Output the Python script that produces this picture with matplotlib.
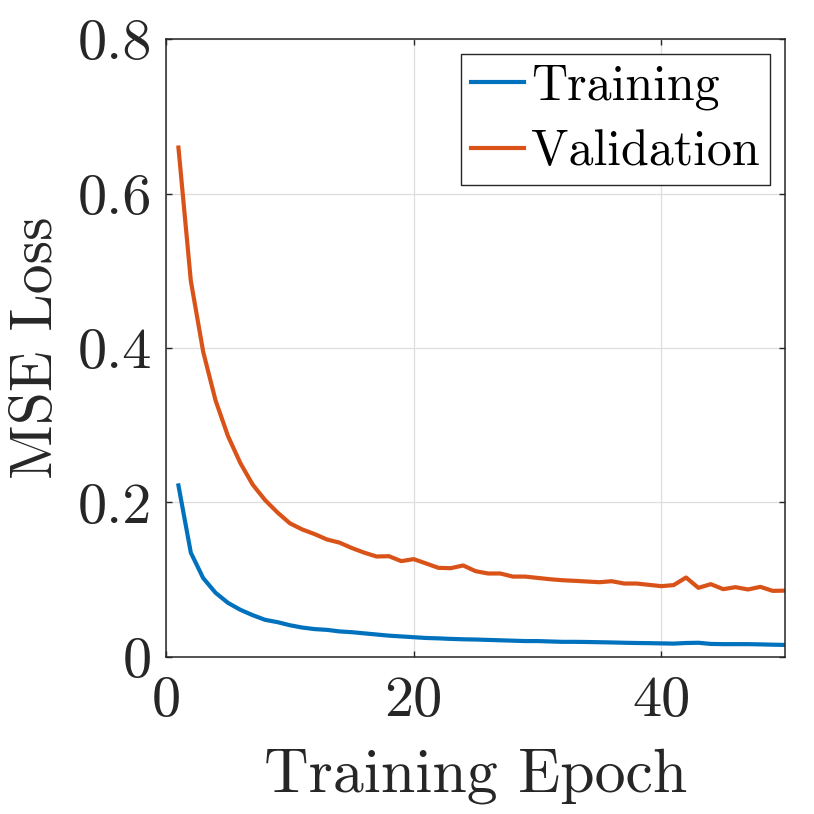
import matplotlib
matplotlib.use("Agg")
import matplotlib.pyplot as plt
import numpy as np

# loss values, one per epoch
epochs = list(range(1, 51))
train_loss = [0.222, 0.135, 0.102, 0.083, 0.070, 0.061, 0.054, 0.048, 0.045, 0.041,
              0.038, 0.036, 0.035, 0.033, 0.032, 0.0305, 0.029, 0.0275, 0.0265, 0.0255,
              0.0245, 0.024, 0.0233, 0.0228, 0.0225, 0.022, 0.0215, 0.021, 0.0205, 0.0205,
              0.020, 0.0195, 0.0195, 0.0193, 0.019, 0.0187, 0.0183, 0.018, 0.0178, 0.0175,
              0.0172, 0.018, 0.0183, 0.0168, 0.0165, 0.0165, 0.0165, 0.0162, 0.0158, 0.0155]
val_loss = [0.6595, 0.487, 0.395, 0.332, 0.286, 0.251, 0.223, 0.203, 0.187, 0.173,
            0.165, 0.159, 0.152, 0.148, 0.141, 0.135, 0.130, 0.1304, 0.124, 0.1266,
            0.121, 0.1153, 0.1149, 0.1184, 0.111, 0.108, 0.108, 0.104, 0.104, 0.1023,
            0.1006, 0.0993, 0.0985, 0.0976, 0.0967, 0.098, 0.095, 0.095, 0.0933, 0.0916,
            0.093, 0.1028, 0.0894, 0.0942, 0.0877, 0.0903, 0.0873, 0.0907, 0.0855, 0.0858]

xticks = [0, 20, 40]
yticks = [0, 0.2, 0.4, 0.6, 0.8]
ytick_labels = ["0", "0.2", "0.4", "0.6", "0.8"]

plt.rcParams['font.family'] = 'serif'
plt.rcParams['font.serif'] = ['cmr10']
plt.rcParams['axes.formatter.use_mathtext'] = True

fig = plt.figure(figsize=(8.14, 8.14), dpi=100)
ax = fig.add_axes([0.204, 0.193, 0.7605, 0.759])

ax.plot(epochs, train_loss, color='#0072BD', lw=3.0, label='Training')
ax.plot(epochs, val_loss, color='#D95319', lw=3.0, label='Validation')

ax.set_xlim(0, 50)
ax.set_ylim(0, 0.8)
ax.set_xticks(xticks)
ax.set_xticklabels([str(t) for t in xticks])
ax.set_yticks(yticks)
ax.set_yticklabels(ytick_labels)

ax.grid(True, color='#dedede', lw=0.9)
ax.set_axisbelow(True)
for s in ax.spines.values():
    s.set_color('#262626')
    s.set_linewidth(1.1)
ax.tick_params(direction='in', length=4.5, width=1.0, colors='#262626',
               top=True, right=True, labelsize=42)
ax.tick_params(axis='x', pad=14)
ax.tick_params(axis='y', pad=10)

ax.set_xlabel('Training Epoch', fontsize=44.5, color='#262626', labelpad=15)
ax.set_ylabel('MSE Loss', fontsize=43, color='#262626', labelpad=10)

leg = ax.legend(loc='upper right', fontsize=36, fancybox=False, framealpha=1,
                edgecolor='#262626', borderaxespad=0.3, handlelength=1.05,
                handletextpad=0.15, borderpad=0.2, labelspacing=0.38)
leg.get_frame().set_linewidth(1.0)
for t in leg.get_texts():
    t.set_color('black')

fig.savefig('out.png', dpi=100)
